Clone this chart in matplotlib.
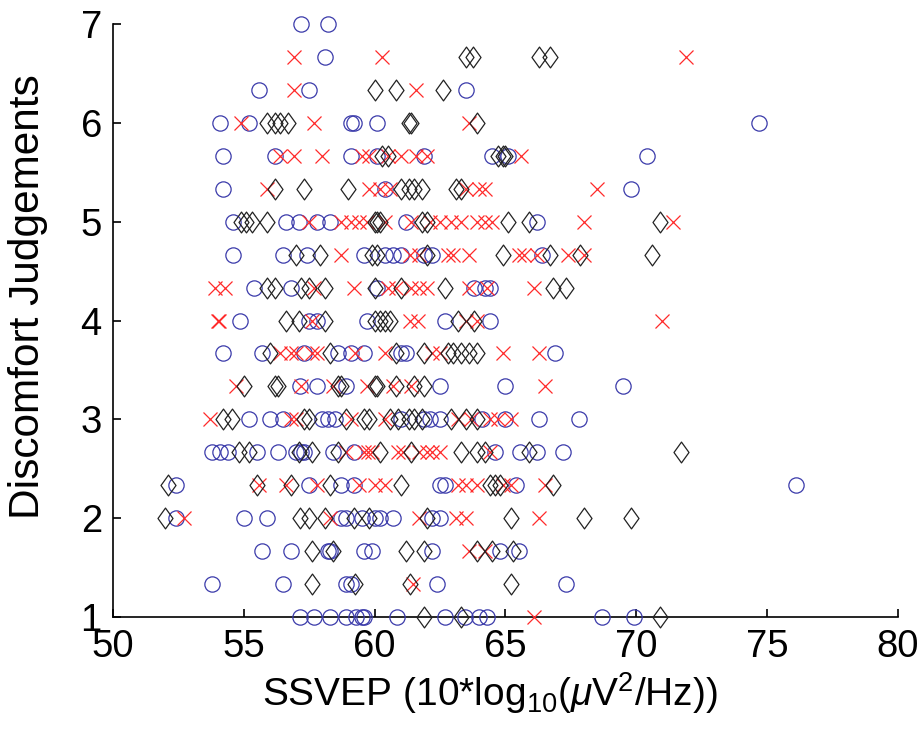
import matplotlib
matplotlib.use("Agg")
import matplotlib.pyplot as plt
from matplotlib.path import Path

# ---------------- data ----------------
circle_x = [
    57.2, 58.2,                                                     # 7
    58.1,                                                           # 6.67
    55.6, 57.5, 63.5,                                               # 6.33
    54.1, 55.2, 59.1, 59.2, 60.1, 74.7,                             # 6
    54.2, 56.2, 59.1, 60.1, 61.9, 64.5, 65.1, 70.4,                 # 5.67
    54.2, 60.4, 69.8,                                               # 5.33
    54.6, 56.6, 57.1, 57.8, 58.3, 61.2, 66.2,                       # 5
    54.6, 56.5, 57.4, 59.6, 60.4, 60.7, 61.0, 61.9, 62.2, 66.4,     # 4.67
    55.4, 56.8, 60.1, 63.8, 64.2, 64.4,                             # 4.33
    54.85, 57.5, 57.8, 59.7, 62.7, 64.4,                            # 4
    54.2, 55.7, 57.3, 58.6, 59.1, 59.6, 61.0, 61.2, 66.9,           # 3.67
    57.15, 57.8, 58.9, 62.5, 65.0, 69.5,                            # 3.33
    55.2, 56.0, 56.5, 58.0, 58.2, 58.5, 61.0, 61.9, 62.1, 62.5,
    64.1, 65.0, 66.3, 67.8,                                         # 3
    53.8, 54.1, 54.4, 55.5, 56.3, 57.0, 57.2, 57.3, 58.4, 59.2,
    64.6, 65.55, 66.2, 67.2,                                        # 2.67
    52.4, 57.5, 58.7, 59.2, 62.5, 62.7, 65.4, 76.1,                 # 2.33
    52.4, 55.0, 55.9, 58.7, 58.9, 59.5, 60.0, 60.2, 60.7, 62.2,
    62.5,                                                           # 2
    55.7, 56.8, 58.2, 58.3, 59.6, 59.9, 62.2, 64.8, 65.5,           # 1.67
    53.8, 56.5, 58.9, 59.1, 62.4, 67.3,                             # 1.33
    57.15, 57.7, 58.3, 58.9, 59.3, 59.5, 59.6, 60.85, 62.7, 63.45,
    64.0, 64.3, 68.7, 69.9,                                         # 1
]
circle_y = (
    [7] * 2 + [6.667] * 1 + [6.333] * 3 + [6] * 6 + [5.667] * 8
    + [5.333] * 3 + [5] * 7 + [4.667] * 10 + [4.333] * 6 + [4] * 6
    + [3.667] * 9 + [3.333] * 6 + [3] * 14 + [2.667] * 14 + [2.333] * 8
    + [2] * 11 + [1.667] * 9 + [1.333] * 6 + [1] * 14
)

cross_x = [
    56.9, 60.3, 71.9,                                               # 6.67
    56.9, 61.6,                                                     # 6.33
    54.9, 57.7, 63.6,                                               # 6
    56.4, 56.9, 58.0, 59.5, 59.8, 60.5, 61.0, 61.6, 62.0, 65.6,     # 5.67
    55.9, 59.8, 60.2, 60.6, 63.5, 64.0, 64.2, 68.5,                 # 5.33
    57.5, 58.7, 59.1, 59.4, 59.7, 60.4, 61.4, 62.1, 62.5, 62.9,
    63.3, 63.9, 64.2, 64.5, 68.0, 71.4,                             # 5
    58.7, 61.35, 61.7, 62.8, 63.0, 63.6, 65.5, 65.7, 66.2, 67.4,
    68.0,                                                           # 4.67
    53.9, 54.3, 57.7, 59.2, 60.5, 60.8, 61.4, 61.7, 62.0, 63.6,
    64.3, 66.1,                                                     # 4.33
    54.0, 54.05, 57.6, 61.35, 61.65, 63.5, 63.9, 71.0,              # 4
    56.4, 56.8, 57.0, 57.6, 57.8, 59.25, 60.4, 62.2, 62.5, 64.9,
    66.3,                                                           # 3.67
    54.7, 57.2, 58.4, 59.7, 60.7, 61.4, 66.5,                       # 3.33
    53.7, 56.8, 57.0, 59.1, 60.4, 63.2, 63.7, 64.4, 64.7, 65.2,     # 3
    58.9, 59.6, 59.75, 59.9, 60.9, 61.1, 61.7, 62.0, 62.2, 62.5,
    64.4,                                                           # 2.67
    55.6, 56.6, 57.8, 59.4, 60.0, 60.4, 63.2, 63.5, 63.9, 64.9,
    65.2, 66.5,                                                     # 2.33
    52.7, 58.3, 61.7, 63.1, 63.5, 66.3,                             # 2
    63.6, 64.2,                                                     # 1.67
    61.45,                                                          # 1.33
    66.1,                                                           # 1
]
cross_y = (
    [6.667] * 3 + [6.333] * 2 + [6] * 3 + [5.667] * 10 + [5.333] * 8
    + [5] * 16 + [4.667] * 11 + [4.333] * 12 + [4] * 8 + [3.667] * 11
    + [3.333] * 7 + [3] * 10 + [2.667] * 11 + [2.333] * 12 + [2] * 6
    + [1.667] * 2 + [1.333] * 1 + [1] * 1
)

diamond_x = [
    63.5, 63.75, 66.3, 66.7,                                        # 6.67
    60.0, 60.8, 62.6,                                               # 6.33
    55.9, 56.2, 56.4, 56.7, 61.3, 61.4, 63.9,                       # 6
    60.3, 60.5, 64.7, 64.9, 65.0,                                   # 5.67
    56.2, 57.3, 59.0, 61.0, 61.3, 61.5, 61.8, 63.1, 63.3,           # 5.33
    54.9, 55.1, 55.3, 55.9, 60.0, 60.1, 60.2, 61.8, 62.0, 65.1,
    65.9, 70.9,                                                     # 5
    57.0, 57.9, 59.9, 60.1, 62.0, 64.9, 66.7, 67.85, 70.6,          # 4.67
    55.9, 56.2, 57.2, 57.5, 58.1, 60.0, 61.0, 62.7, 66.8, 67.3,     # 4.33
    56.6, 57.1, 58.1, 60.0, 60.2, 60.4, 60.6, 63.2, 63.8,           # 4
    56.0, 58.3, 60.8, 61.9, 62.8, 63.0, 63.3, 63.6, 63.9,           # 3.67
    55.0, 56.2, 56.3, 58.6, 58.7, 60.0, 60.1, 60.8, 61.5, 61.9,     # 3.33
    54.2, 54.55, 57.3, 57.5, 58.9, 59.6, 59.8, 60.6, 60.9, 61.3,
    61.5, 61.8, 62.9, 63.5, 63.9,                                   # 3
    54.8, 55.2, 57.1, 57.6, 58.6, 60.2, 61.4, 63.3, 63.9, 64.2,
    65.9, 71.7,                                                     # 2.67
    52.1, 55.5, 56.8, 58.3, 61.0, 64.4, 64.6, 64.8, 66.8,           # 2.33
    52.0, 57.15, 57.5, 58.1, 59.2, 59.8, 62.0, 65.2, 68.0, 69.8,    # 2
    57.6, 58.4, 61.2, 61.9, 63.9, 64.5, 65.3,                       # 1.67
    57.6, 59.25, 61.35, 65.2,                                       # 1.33
    61.9, 63.3, 70.9,                                               # 1
]
diamond_y = (
    [6.667] * 4 + [6.333] * 3 + [6] * 7 + [5.667] * 5 + [5.333] * 9
    + [5] * 12 + [4.667] * 9 + [4.333] * 10 + [4] * 9 + [3.667] * 9
    + [3.333] * 10 + [3] * 15 + [2.667] * 12 + [2.333] * 9 + [2] * 10
    + [1.667] * 7 + [1.333] * 4 + [1] * 3
)

x_ticks = [50, 55, 60, 65, 70, 75, 80]
y_ticks = [1, 2, 3, 4, 5, 6, 7]
x_label = r"SSVEP (10*log$_{10}$($\mu$V$^2$/Hz))"
y_label = "Discomfort Judgements"

# ---------------- drawing ----------------
plt.rcParams["font.family"] = ["Liberation Sans", "DejaVu Sans"]
plt.rcParams["mathtext.fontset"] = "custom"
plt.rcParams["mathtext.rm"] = "Liberation Sans"
plt.rcParams["mathtext.it"] = "Liberation Sans:italic"

fig = plt.figure(figsize=(9.17, 7.42), dpi=100)
ax = fig.add_axes([0.1232, 0.1685, 0.856, 0.799])

diamond = Path([(0, 1), (0.72, 0), (0, -1), (-0.72, 0), (0, 1)],
               [Path.MOVETO, Path.LINETO, Path.LINETO, Path.LINETO, Path.CLOSEPOLY])

ax.plot(circle_x, circle_y, linestyle="none", marker="o", markersize=11,
        markerfacecolor="none", markeredgecolor="#3a3aaa", markeredgewidth=0.9,
        clip_on=False, zorder=3)
ax.plot(cross_x, cross_y, linestyle="none", marker="x", markersize=9.5,
        markeredgecolor="#ff2a2a", markeredgewidth=0.9, clip_on=False, zorder=3)
ax.plot(diamond_x, diamond_y, linestyle="none", marker=diamond, markersize=15,
        markerfacecolor="none", markeredgecolor="#222222", markeredgewidth=0.9,
        clip_on=False, zorder=3)

ax.set_xlim(50, 80)
ax.set_ylim(1, 7)
ax.set_xticks(x_ticks)
ax.set_yticks(y_ticks)
ax.spines["top"].set_visible(False)
ax.spines["right"].set_visible(False)
for s in ("left", "bottom"):
    ax.spines[s].set_linewidth(1.2)
ax.tick_params(direction="in", length=6, width=1.2, labelsize=27.5)
ax.tick_params(axis="x", pad=9)
ax.tick_params(axis="y", pad=8)
ax.set_xlabel(x_label, fontsize=28)
ax.xaxis.set_label_coords(0.48, -0.09)
ax.set_ylabel(y_label, fontsize=30.5)
ax.yaxis.set_label_coords(-0.083, 0.54)

fig.savefig("out.png", dpi=100)
